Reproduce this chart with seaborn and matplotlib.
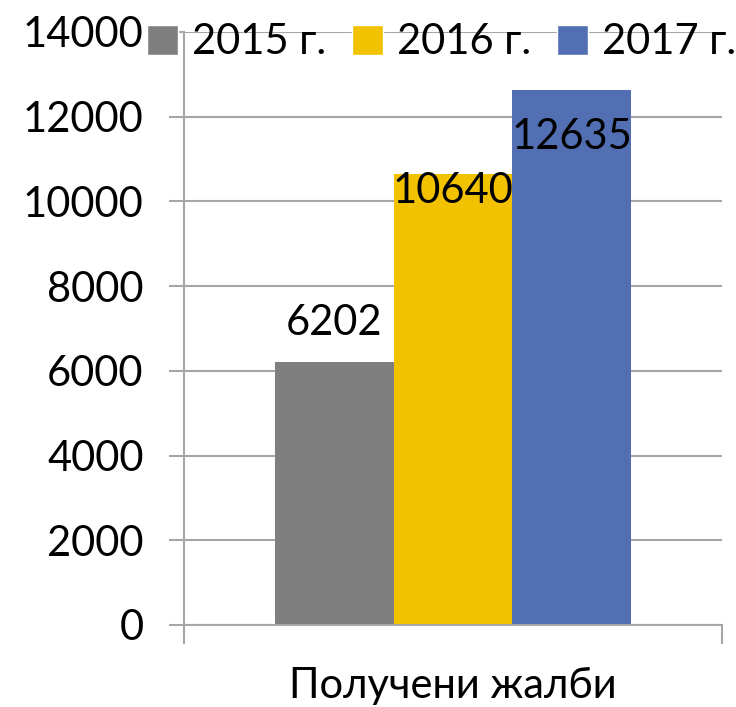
import matplotlib
matplotlib.use("Agg")
import matplotlib.pyplot as plt
from matplotlib.patches import Patch
import pandas as pd
import seaborn as sns

category = ["Получени жалби"]
years = ["2015 г.", "2016 г.", "2017 г."]
values = [6202, 10640, 12635]
colors = ["#7F7F7F", "#F2C200", "#516FB2"]
# label offset from bar top, in points (Excel placed them differently per bar)
label_offsets = [28, -12, -34]

df = pd.DataFrame({"cat": category * len(years), "year": years, "value": values})

sns.set_theme(style="white")
plt.rcParams["font.family"] = ["Lato", "DejaVu Sans"]
plt.rcParams["text.color"] = "black"
FS = 30

fig = plt.figure(figsize=(7.36, 7.07), dpi=100)
ax = fig.add_axes([0.25, 0.116, 0.731, 0.839])

sns.barplot(data=df, x="cat", y="value", hue="year", palette=colors,
            width=0.8, saturation=1, legend=False, ax=ax, zorder=2,
            linewidth=0, edgecolor="none")

ax.set_ylim(0, 14000)
ax.set_yticks(range(0, 14001, 2000))
ax.set_xlim(-0.603, 0.603)
ax.yaxis.grid(True, color="#A6A6A6", linewidth=1.5, zorder=0)
ax.set_axisbelow(True)

for sp in ["top", "right"]:
    ax.spines[sp].set_visible(False)
for sp in ["left", "bottom"]:
    ax.spines[sp].set_color("#A6A6A6")
    ax.spines[sp].set_linewidth(1.5)

ax.tick_params(axis="y", left=True, length=11, width=1.5, color="#A6A6A6",
               labelsize=FS, pad=18, labelcolor="black")
ax.set_xticks([0])
ax.set_xticklabels(category, fontsize=FS)
ax.tick_params(axis="x", length=0, pad=30, labelcolor="black")
ax.set_xticks([-0.603, 0.603], minor=True)
ax.tick_params(axis="x", which="minor", bottom=True, length=14, width=1.5,
               color="#A6A6A6")
ax.set_xlabel("")
ax.set_ylabel("")

for bar, v, off in zip(ax.patches, values, label_offsets):
    ax.annotate(str(v), (bar.get_x() + bar.get_width() / 2, bar.get_height()),
                xytext=(0, off), textcoords="offset points",
                ha="center", va="center", fontsize=FS, color="black", zorder=3)

handles = [Patch(facecolor=c, label=y) for c, y in zip(colors, years)]
fig.legend(handles=handles, loc="center", bbox_to_anchor=(0.6, 0.94), ncol=3,
           frameon=False, fontsize=FS, handlelength=0.75, handleheight=0.75,
           handletextpad=0.35, columnspacing=0.6, borderpad=0.2)

fig.savefig("out.png", dpi=100)
